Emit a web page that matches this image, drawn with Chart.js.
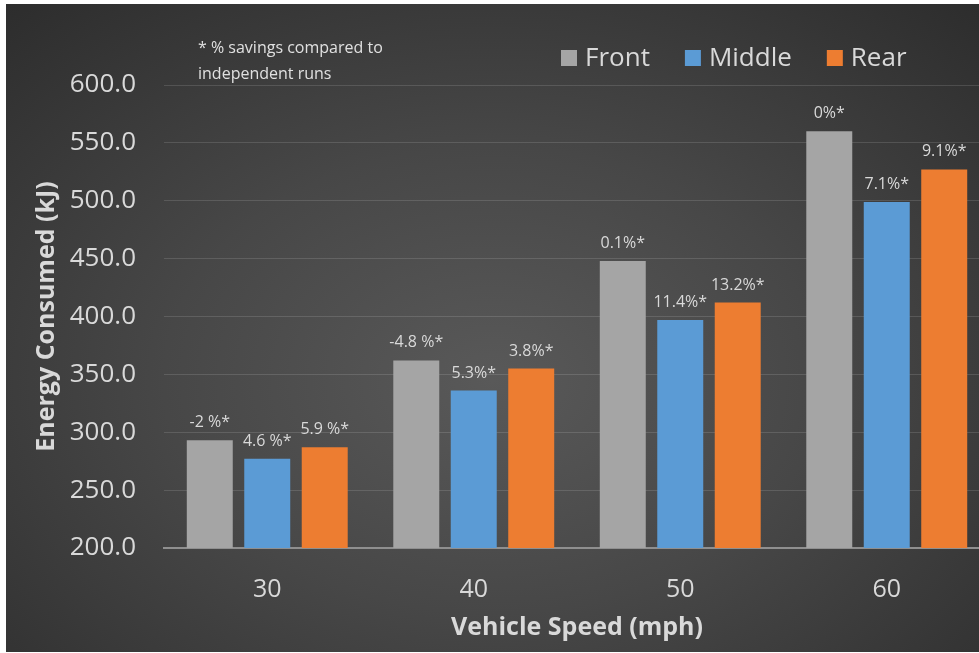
<!DOCTYPE html>
<html>
<head>
<meta charset="utf-8">
<script src="https://cdn.jsdelivr.net/npm/chart.js@4.4.1/dist/chart.umd.min.js"></script>
<style>
  html, body { margin: 0; padding: 0; background: #ffffff; overflow: hidden; width: 979px; height: 653px; }
  #frame {
    position: absolute; left: 6px; top: 4px; width: 973px; height: 648px; overflow: hidden;
    background: radial-gradient(ellipse 75% 80% at 50% 58%, #595959 0%, #474747 45%, #2c2c2c 100%);
  }
  canvas { display: block; }
</style>
</head>
<body>
<div id="frame"><canvas id="chart" width="986" height="648"></canvas></div>
<script>
// Energy consumed per vehicle position at each test speed
const speeds = ['30', '40', '50', '60'];
const positions = ['Front', 'Middle', 'Rear'];
const frontEnergy = [293, 362, 448, 560];
const middleEnergy = [277, 336, 397, 499];
const rearEnergy = [287, 355, 412, 527];
// Savings relative to running each vehicle on its own
const frontSavings = ['-2 %*', '-4.8 %*', '0.1%*', '0%*'];
const middleSavings = ['4.6 %*', '5.3%*', '11.4%*', '7.1%*'];
const rearSavings = ['5.9 %*', '3.8%*', '13.2%*', '9.1%*'];
const yTicks = [200, 250, 300, 350, 400, 450, 500, 550, 600];
const footnote = ['* % savings compared to', 'independent runs'];

const colors = ['#A5A5A5', '#5B9BD5', '#ED7D31'];
const textColor = '#d9d9d9';
const fontFamily = '"Open Sans", "Noto Sans", sans-serif';

const seriesValues = [frontEnergy, middleEnergy, rearEnergy];
const seriesLabels = [frontSavings, middleSavings, rearSavings];

// Percentage labels above each bar
const barLabels = {
  id: 'barLabels',
  afterDatasetsDraw(chart) {
    const ctx = chart.ctx;
    ctx.save();
    ctx.fillStyle = textColor;
    ctx.font = '16px ' + fontFamily;
    ctx.textAlign = 'center';
    ctx.textBaseline = 'alphabetic';
    chart.data.datasets.forEach((ds, i) => {
      chart.getDatasetMeta(i).data.forEach((bar, j) => {
        ctx.fillText(seriesLabels[i][j], bar.x, bar.y - 13);
      });
    });
    ctx.restore();
  }
};

// Legend row and footnote in the top band
const topBand = {
  id: 'topBand',
  afterDraw(chart) {
    const ctx = chart.ctx;
    ctx.save();
    ctx.fillStyle = '#e0e0e0';
    ctx.font = '16px ' + fontFamily;
    ctx.textAlign = 'left';
    ctx.textBaseline = 'middle';
    ctx.fillText(footnote[0], 192, 44);
    ctx.fillText(footnote[1], 192, 70);

    ctx.font = '26px ' + fontFamily;
    let x = 555;
    const cy = 54;
    chart.data.datasets.forEach((ds) => {
      ctx.fillStyle = ds.backgroundColor;
      ctx.fillRect(x, cy - 8, 16, 16);
      ctx.fillStyle = textColor;
      ctx.fillText(ds.label, x + 24, cy + 1);
      x += 24 + ctx.measureText(ds.label).width + 35;
    });
    ctx.restore();
  }
};

new Chart(document.getElementById('chart'), {
  type: 'bar',
  data: {
    labels: speeds,
    datasets: positions.map((name, i) => ({
      label: name,
      data: seriesValues[i],
      backgroundColor: colors[i],
      borderWidth: 0,
      barPercentage: 0.8,
      categoryPercentage: 0.835
    }))
  },
  options: {
    responsive: false,
    animation: false,
    devicePixelRatio: 1,
    layout: { padding: { top: 81, right: 2, left: 0, bottom: 0 } },
    plugins: {
      legend: { display: false },
      tooltip: { enabled: false }
    },
    scales: {
      x: {
        grid: { display: false },
        border: { display: true, color: '#8f8f8f', width: 2 },
        ticks: { color: textColor, font: { size: 25, family: fontFamily }, padding: 19 },
        title: {
          display: true, text: 'Vehicle Speed (mph)', color: textColor,
          font: { size: 25, weight: 'bold', family: fontFamily },
          padding: { top: 0, bottom: 9 }
        },
        afterFit(scale) { scale.height = 104; }
      },
      y: {
        min: 200, max: 600,
        afterBuildTicks(scale) { scale.ticks = yTicks.map(v => ({ value: v })); },
        grid: { color: 'rgba(255,255,255,0.13)', lineWidth: 1, drawTicks: false },
        border: { display: false },
        ticks: {
          color: textColor, font: { size: 26, family: fontFamily }, padding: 28,
          callback: v => Number(v).toFixed(1)
        },
        title: {
          display: true, text: 'Energy Consumed (kJ)', color: textColor,
          font: { size: 25, weight: 'bold', family: fontFamily },
          padding: { top: 26, bottom: 0 }
        },
        afterFit(scale) { scale.width = 158; }
      }
    }
  },
  plugins: [barLabels, topBand]
});
</script>
</body>
</html>
